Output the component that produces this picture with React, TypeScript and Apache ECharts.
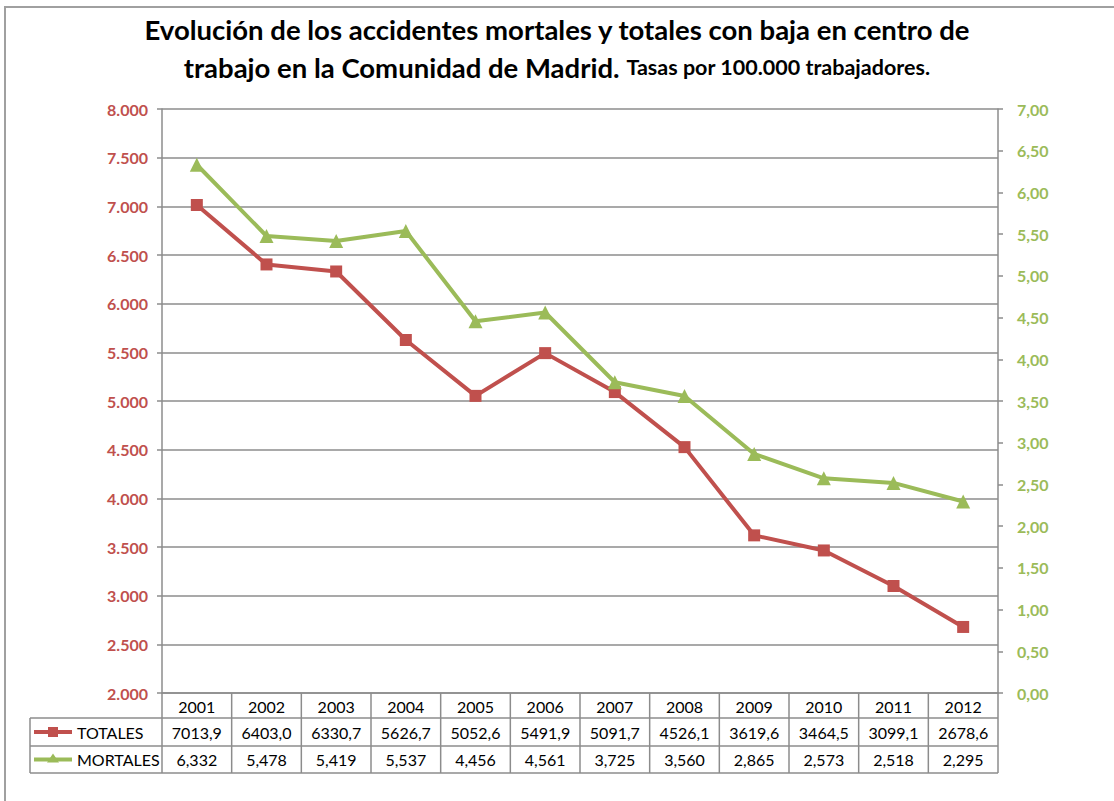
import React, { useEffect, useRef } from "react";
import * as echarts from "echarts";

const years = ["2001", "2002", "2003", "2004", "2005", "2006", "2007", "2008", "2009", "2010", "2011", "2012"];
const totales = [7013.9, 6403.0, 6330.7, 5626.7, 5052.6, 5491.9, 5091.7, 4526.1, 3619.6, 3464.5, 3099.1, 2678.6];
const mortales = [6.332, 5.478, 5.419, 5.537, 4.456, 4.561, 3.725, 3.56, 2.865, 2.573, 2.518, 2.295];
const seriesNames = ["TOTALES", "MORTALES"];

const RED = "#C0504D";
const GREEN = "#9BBB59";
const GRAYLINE = "#8C8C8C";
const FONT = "Lato, 'Open Sans', sans-serif";
const AXFONT = "Lato, 'Open Sans', sans-serif";

export default function App() {
  const ref = useRef<HTMLDivElement>(null);
  useEffect(() => {
    document.body.style.margin = "0";
    const chart = echarts.init(ref.current!, null, { renderer: "svg" });
    const gridLeft = 162, gridRight = 116, gridTop = 109, gridBottom = 108;
    chart.setOption({
      animation: false,
      backgroundColor: "#ffffff",
      title: {
        text: "Evolución de los accidentes mortales y totales con baja en centro de\ntrabajo en la Comunidad de Madrid. {s|Tasas por 100.000 trabajadores.}",
        left: "center",
        top: 5,
        textStyle: {
          fontFamily: FONT,
          fontSize: 27.5,
          fontWeight: "bold",
          color: "#000",
          lineHeight: 38,
          rich: {
            s: { fontFamily: FONT, fontSize: 21.5, fontWeight: "bold", color: "#000", lineHeight: 38 },
          },
        },
      },
      grid: { left: gridLeft, right: gridRight, top: gridTop, bottom: gridBottom, containLabel: false },
      xAxis: {
        type: "category",
        data: years,
        boundaryGap: true,
        axisLine: { show: true, lineStyle: { color: GRAYLINE, width: 1.5 } },
        axisTick: { show: false },
        axisLabel: { show: false },
        splitLine: { show: false },
      },
      yAxis: [
        {
          type: "value",
          min: 2000,
          max: 8000,
          interval: 500,
          position: "left",
          axisLine: { show: true, lineStyle: { color: GRAYLINE, width: 1.5 } },
          axisTick: { show: true, length: 5, lineStyle: { color: GRAYLINE, width: 1.5 } },
          axisLabel: {
            color: RED,
            fontWeight: "bold",
            fontSize: 16,
            fontFamily: AXFONT,
            margin: 14,
            formatter: (v: number) => {
              const s = String(Math.round(v));
              return s.length > 3 ? s.slice(0, s.length - 3) + "." + s.slice(-3) : s;
            },
          },
          splitLine: { show: true, lineStyle: { color: GRAYLINE, width: 1.5 } },
        },
        {
          type: "value",
          min: 0,
          max: 7,
          interval: 0.5,
          position: "right",
          axisLine: { show: true, lineStyle: { color: GRAYLINE, width: 1.5 } },
          axisTick: { show: true, length: 5, lineStyle: { color: GRAYLINE, width: 1.5 } },
          axisLabel: {
            color: GREEN,
            fontWeight: "bold",
            fontSize: 16,
            fontFamily: AXFONT,
            margin: 19,
            formatter: (v: number) => v.toFixed(2).replace(".", ","),
          },
          splitLine: { show: false },
        },
      ],
      series: [
        {
          name: seriesNames[0],
          type: "line",
          yAxisIndex: 0,
          data: totales,
          symbol: "rect",
          symbolSize: 12,
          lineStyle: { color: RED, width: 4 },
          itemStyle: { color: RED },
          z: 3,
        },
        {
          name: seriesNames[1],
          type: "line",
          yAxisIndex: 1,
          data: mortales,
          symbol: "triangle",
          symbolSize: 14,
          lineStyle: { color: GREEN, width: 4 },
          itemStyle: { color: GREEN },
          z: 4,
        },
      ],
    });

    // Data table below the plot, positioned from the category axis
    const cx = years.map((_, i) => chart.convertToPixel({ xAxisIndex: 0 }, i) as number);
    const half = (cx[1] - cx[0]) / 2;
    const x0 = cx[0] - half;
    const x1 = cx[cx.length - 1] + half;
    const yAxisBottom = chart.convertToPixel({ yAxisIndex: 0 }, 2000) as number;
    const rowH = [25, 28, 27];
    const yHeaderTop = yAxisBottom;
    const yRow1 = yHeaderTop + rowH[0];
    const yRow2 = yRow1 + rowH[1];
    const yEnd = yRow2 + rowH[2];
    const labelLeft = 30;
    const lineStyle = { stroke: GRAYLINE, lineWidth: 1.5 };
    const els: any[] = [];
    els.push({ type: "line", shape: { x1: labelLeft, y1: yRow1, x2: x1, y2: yRow1 }, style: lineStyle });
    els.push({ type: "line", shape: { x1: labelLeft, y1: yRow2, x2: x1, y2: yRow2 }, style: lineStyle });
    els.push({ type: "line", shape: { x1: labelLeft, y1: yEnd, x2: x1, y2: yEnd }, style: lineStyle });
    els.push({ type: "line", shape: { x1: labelLeft, y1: yRow1, x2: labelLeft, y2: yEnd }, style: lineStyle });
    for (let i = 0; i <= years.length; i++) {
      const x = x0 + i * 2 * half;
      els.push({ type: "line", shape: { x1: x, y1: yHeaderTop, x2: x, y2: yEnd }, style: lineStyle });
    }
    const cellFont = { fontFamily: FONT, fontSize: 16, fill: "#000" };
    years.forEach((yr, i) => {
      els.push({ type: "text", x: cx[i], y: (yHeaderTop + yRow1) / 2 + 1, style: { ...cellFont, text: yr, align: "center", verticalAlign: "middle" } });
      els.push({ type: "text", x: cx[i], y: (yRow1 + yRow2) / 2, style: { ...cellFont, text: totales[i].toFixed(1).replace(".", ","), align: "center", verticalAlign: "middle" } });
      els.push({ type: "text", x: cx[i], y: (yRow2 + yEnd) / 2, style: { ...cellFont, text: mortales[i].toFixed(3).replace(".", ","), align: "center", verticalAlign: "middle" } });
    });
    const r1c = (yRow1 + yRow2) / 2;
    const r2c = (yRow2 + yEnd) / 2;
    els.push({ type: "line", shape: { x1: 34, y1: r1c, x2: 72, y2: r1c }, style: { stroke: RED, lineWidth: 4 } });
    els.push({ type: "rect", shape: { x: 48, y: r1c - 5, width: 10, height: 10 }, style: { fill: RED } });
    els.push({ type: "line", shape: { x1: 34, y1: r2c, x2: 72, y2: r2c }, style: { stroke: GREEN, lineWidth: 4 } });
    els.push({ type: "polygon", shape: { points: [[53, r2c - 6], [47, r2c + 3], [59, r2c + 3]] }, style: { fill: GREEN } });
    els.push({ type: "text", x: 77, y: r1c, style: { ...cellFont, text: seriesNames[0], align: "left", verticalAlign: "middle" } });
    els.push({ type: "text", x: 77, y: r2c, style: { ...cellFont, text: seriesNames[1], align: "left", verticalAlign: "middle" } });
    els.push({ type: "rect", shape: { x: 5, y: 7, width: 1130, height: 820 }, style: { fill: "none", stroke: "#A0A0A0", lineWidth: 2 }, z: -1 });

    chart.setOption({ graphic: { elements: els } });
    return () => chart.dispose();
  }, []);
  return <div ref={ref} style={{ width: 1114, height: 801 }} />;
}
